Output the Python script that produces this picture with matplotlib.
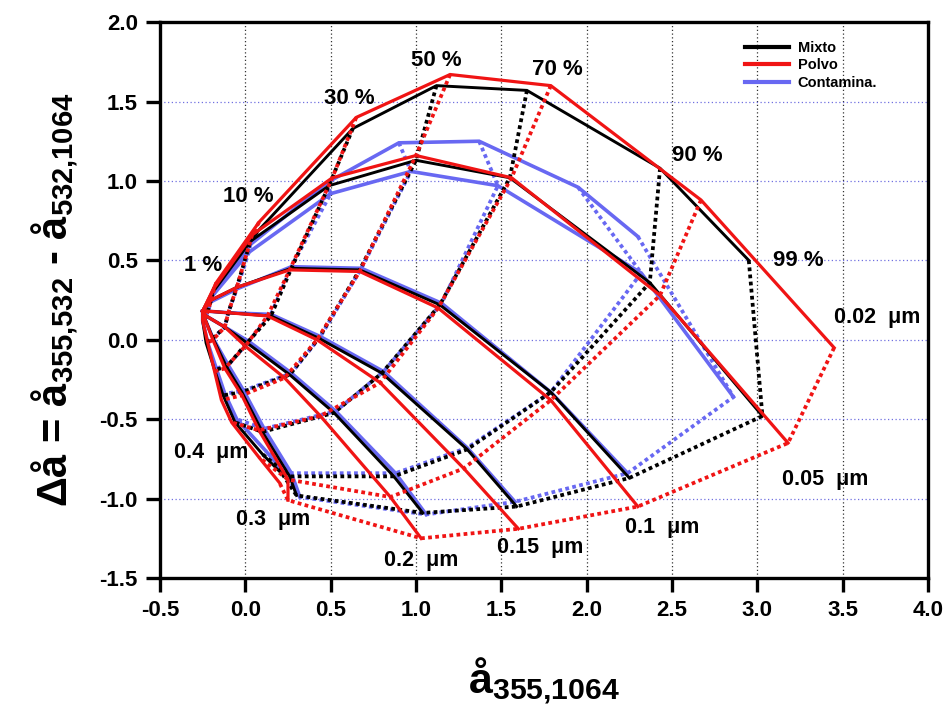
import matplotlib
matplotlib.use('Agg')
import matplotlib.pyplot as plt
from matplotlib.lines import Line2D

plt.rcParams['font.family'] = ['Liberation Sans', 'DejaVu Sans']
plt.rcParams['mathtext.default'] = 'regular'

# radios del modo fino (um) y fraccion de modo fino (%)
radii = ['0.02', '0.05', '0.1', '0.15', '0.2', '0.3', '0.4']
fractions = ['1', '10', '30', '50', '70', '90', '99']

# punto de partida comun (solo modo grueso)
origin_x = -0.25
origin_y = 0.18

# Mixto (negro): filas = radio, columnas = fraccion
mixto_x = [
    [-0.18, 0.07, 0.63, 1.12, 1.65, 2.43, 2.95],
    [-0.19, 0.03, 0.49, 1.00, 1.55, 2.37, 3.03],
    [-0.20, -0.05, 0.27, 0.67, 1.14, 1.79, 2.25],
    [-0.22, -0.10, 0.15, 0.43, 0.80, 1.30, 1.59],
    [-0.23, -0.12, 0.01, 0.26, 0.52, 0.87, 1.04],
    [-0.24, -0.19, -0.11, -0.02, 0.10, 0.26, 0.30],
    [-0.25, -0.23, -0.18, -0.13, -0.06, 0.10, 0.22],
]
mixto_y = [
    [0.33, 0.68, 1.33, 1.60, 1.57, 1.08, 0.50],
    [0.30, 0.62, 0.97, 1.13, 1.02, 0.36, -0.48],
    [0.25, 0.33, 0.45, 0.44, 0.22, -0.33, -0.87],
    [0.18, 0.17, 0.15, 0.01, -0.21, -0.69, -1.05],
    [0.15, 0.08, -0.02, -0.22, -0.46, -0.86, -1.09],
    [0.14, 0.01, -0.17, -0.33, -0.58, -0.86, -0.98],
    [0.12, -0.02, -0.19, -0.35, -0.52, -0.72, -0.85],
]

# Polvo (rojo)
polvo_x = [
    [-0.17, 0.08, 0.65, 1.20, 1.79, 2.67, 3.45],
    [-0.18, 0.04, 0.51, 1.00, 1.56, 2.43, 3.18],
    [-0.20, -0.05, 0.26, 0.67, 1.13, 1.79, 2.30],
    [-0.22, -0.10, 0.13, 0.42, 0.79, 1.28, 1.60],
    [-0.23, -0.12, 0.00, 0.23, 0.44, 0.85, 1.03],
    [-0.24, -0.19, -0.12, -0.02, 0.08, 0.25, 0.25],
    [-0.25, -0.22, -0.18, -0.14, -0.08, 0.08, 0.20],
]
polvo_y = [
    [0.36, 0.74, 1.40, 1.67, 1.60, 0.88, -0.05],
    [0.33, 0.66, 1.02, 1.16, 1.02, 0.28, -0.65],
    [0.25, 0.33, 0.44, 0.43, 0.20, -0.38, -1.05],
    [0.18, 0.17, 0.15, 0.00, -0.27, -0.81, -1.19],
    [0.15, 0.08, -0.04, -0.24, -0.48, -0.99, -1.25],
    [0.14, 0.00, -0.18, -0.35, -0.57, -0.88, -1.01],
    [0.12, -0.02, -0.20, -0.38, -0.52, -0.74, -0.90],
]

# Contaminacion (azul)
contam_x = [
    [-0.18, 0.03, 0.48, 0.90, 1.37, 1.95, 2.30],
    [-0.19, 0.02, 0.50, 0.97, 1.48, 2.32, 2.86],
    [-0.20, -0.05, 0.27, 0.68, 1.15, 1.79, 2.24],
    [-0.22, -0.10, 0.15, 0.44, 0.81, 1.30, 1.58],
    [-0.23, -0.12, 0.02, 0.27, 0.53, 0.88, 1.06],
    [-0.24, -0.19, -0.10, -0.01, 0.11, 0.27, 0.32],
    [-0.25, -0.22, -0.17, -0.12, -0.05, 0.12, 0.23],
]
contam_y = [
    [0.30, 0.60, 0.99, 1.24, 1.25, 0.96, 0.65],
    [0.28, 0.55, 0.92, 1.06, 0.97, 0.42, -0.36],
    [0.24, 0.32, 0.46, 0.45, 0.23, -0.33, -0.84],
    [0.18, 0.17, 0.16, 0.02, -0.20, -0.68, -1.02],
    [0.15, 0.08, -0.01, -0.21, -0.45, -0.84, -1.10],
    [0.14, 0.01, -0.16, -0.32, -0.56, -0.84, -0.99],
    [0.12, -0.02, -0.18, -0.34, -0.50, -0.70, -0.84],
]

# etiquetas de fraccion y de radio (posicion en datos)
frac_labels = ['1 %', '10 %', '30 %', '50 %', '70 %', '90 %', '99 %']
frac_lx = [-0.25, 0.02, 0.61, 1.12, 1.83, 2.65, 3.24]
frac_ly = [0.47, 0.90, 1.52, 1.76, 1.70, 1.16, 0.50]

rad_labels = ['0.02  μm', '0.05  μm', '0.1  μm', '0.15  μm', '0.2  μm', '0.3  μm', '0.4  μm']
rad_lx = [3.70, 3.395, 2.445, 1.725, 1.03, 0.16, -0.20]
rad_ly = [0.14, -0.88, -1.18, -1.31, -1.39, -1.13, -0.71]

BLUE = '#6868f2'
RED = '#f01414'
BLACK = '#000000'


def draw_family(ax, xs, ys, color, lw, z):
    # lineas continuas: radio constante, fraccion variable
    for i in range(len(radii)):
        ax.plot([origin_x] + xs[i], [origin_y] + ys[i], color=color, lw=lw,
                solid_joinstyle='miter', zorder=z)
    # lineas punteadas: fraccion constante, radio variable
    for j in range(len(fractions)):
        ax.plot([row[j] for row in xs], [row[j] for row in ys], color=color,
                lw=2.7, ls=(0, (1, 0.9)), zorder=z - 0.5)


fig = plt.figure(figsize=(9.45, 7.13), dpi=100)
ax = fig.add_axes([0.1693, 0.1893, 0.8127, 0.7797])

draw_family(ax, contam_x, contam_y, BLUE, 2.6, 3)
draw_family(ax, mixto_x, mixto_y, BLACK, 2.1, 4)
draw_family(ax, polvo_x, polvo_y, RED, 2.3, 5)

for lab, x, y in zip(frac_labels, frac_lx, frac_ly):
    ax.text(x, y, lab, fontsize=16, fontweight='bold', ha='center', va='center', zorder=6)
for lab, x, y in zip(rad_labels, rad_lx, rad_ly):
    ax.text(x, y, lab, fontsize=15.5, fontweight='bold', ha='center', va='center', zorder=6)

ax.set_xlim(-0.5, 4.0)
ax.set_ylim(-1.5, 2.0)
ax.set_xticks([-0.5, 0.0, 0.5, 1.0, 1.5, 2.0, 2.5, 3.0, 3.5, 4.0])
ax.set_yticks([-1.5, -1.0, -0.5, 0.0, 0.5, 1.0, 1.5, 2.0])
ax.set_xticklabels([f'{v:.1f}' for v in ax.get_xticks()], fontsize=16, fontweight='bold')
ax.set_yticklabels([f'{v:.1f}' for v in ax.get_yticks()], fontsize=16, fontweight='bold')

# rejilla: vertical negra punteada, horizontal azul punteada
for xv in [0.0, 0.5, 1.0, 1.5, 2.0, 2.5, 3.0, 3.5]:
    ax.axvline(xv, color='#333333', lw=0.9, ls=(0, (1, 2)), zorder=1)
for yv in [-1.0, -0.5, 0.0, 0.5, 1.0, 1.5]:
    ax.axhline(yv, color='#7070e0', lw=0.9, ls=(0, (1, 2)), zorder=1)

for s in ax.spines.values():
    s.set_linewidth(2.4)
ax.tick_params(direction='out', length=10, width=2.4, pad=6)

ax.set_xlabel('å$_{355{,}1064}$', fontsize=31, fontweight='bold', labelpad=24)
ax.set_ylabel('Δå = å$_{355{,}532}$ - å$_{532{,}1064}$', fontsize=30, fontweight='bold', labelpad=14)

handles = [Line2D([], [], color=BLACK, lw=3),
           Line2D([], [], color=RED, lw=3),
           Line2D([], [], color=BLUE, lw=3)]
ax.legend(handles, ['Mixto', 'Polvo', 'Contamina.'], loc='upper left',
          bbox_to_anchor=(0.745, 0.99), frameon=False, handlelength=3.0,
          labelspacing=0.25, handletextpad=0.6,
          prop={'size': 10.5, 'weight': 'bold'})

fig.savefig('out.png', dpi=100)
